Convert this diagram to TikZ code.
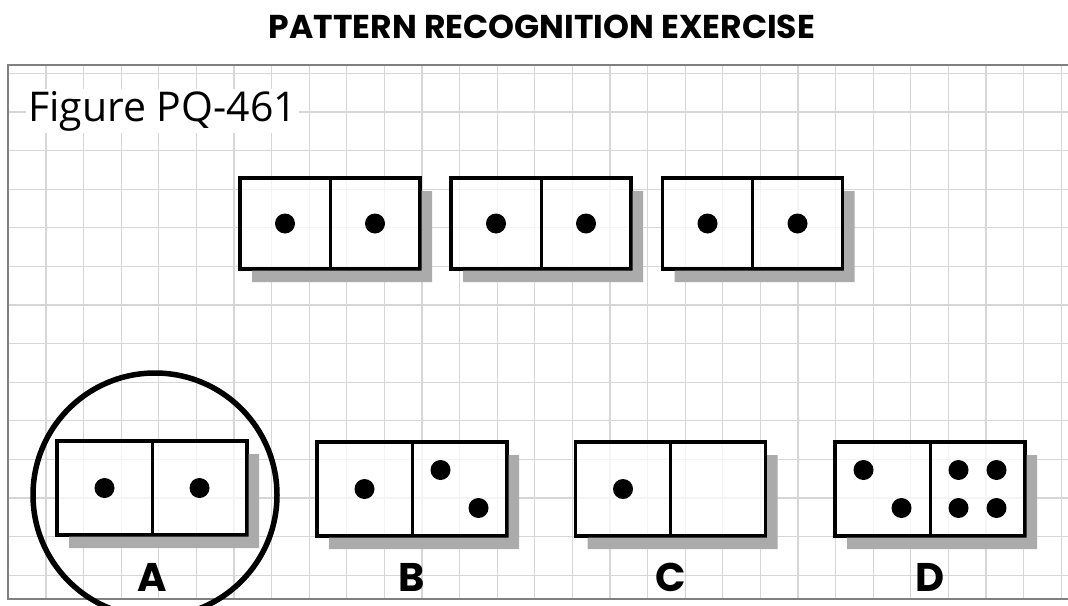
\documentclass[tikz,border=0pt]{standalone}
\usepackage{fontspec}
\usetikzlibrary{calc}
\newfontfamily\geofont{Poppins}
\newfontfamily\figfont{Open Sans}
\begin{document}
\begin{tikzpicture}[x=1pt,y=-1pt,
  gridline/.style={draw=black!16, line width=1.3pt},
  frameline/.style={draw=black!50, line width=2pt},
  domino/.style={draw=black, line width=3.4pt, fill=white, fill opacity=0.75, text opacity=1,
    inner sep=0pt, outer sep=0pt},
  topdomino/.style={domino, minimum width=180pt, minimum height=91pt},
  botdomino/.style={domino, minimum width=190pt, minimum height=94pt},
  shade/.style={fill=black!33},
  divline/.style={draw=black, line width=3pt},
  dot/.style={circle, fill=black, inner sep=0pt, minimum size=20pt},
  letter/.style={font=\geofont\bfseries\fontsize{40}{40}\selectfont, inner sep=0pt},
  ringstyle/.style={circle, draw=black, line width=5.5pt, minimum size=244pt, inner sep=0pt}
]
\useasboundingbox (0,0) rectangle (1068,605);
% title
\node[font=\geofont\bfseries\fontsize{33}{33}\selectfont, inner sep=0pt] (title) at (542,27) {PATTERN RECOGNITION EXERCISE};
% grid
\foreach \k in {0,...,27} \draw[gridline] ({46+37.6*\k},65) -- ({46+37.6*\k},599);
\foreach \k in {-1,...,12} \draw[gridline] (8,{112+38.6*\k}) -- (1068,{112+38.6*\k});
% frame
\draw[frameline] (1070,65) -- (8,65) -- (8,599) -- (1070,599);
% figure label
\node[font=\figfont\fontsize{41}{41}\selectfont, fill=white, inner sep=2pt, anchor=west] (figlabel) at (26,111) {Figure PQ-461};
% top row
\node[topdomino] (t1) at (330,223.5) {};
\node[topdomino] (t2) at (541,223.5) {};
\node[topdomino] (t3) at (752.5,223.5) {};
% bottom row
\node[botdomino] (a) at (152,488) {};
\node[botdomino] (b) at (412,489) {};
\node[botdomino] (c) at (670.5,489) {};
\node[botdomino] (d) at (930,489) {};
% shadows and dividers
\foreach \d in {t1,t2,t3,a,b,c,d} {
  \fill[shade] ($(\d.north east)+(1.7,13)$) -| ($(\d.south east)+(12,13)$) -| ($(\d.south west)+(12,1.7)$) -- ($(\d.south east)+(1.7,1.7)$) -- cycle;
  \draw[divline] (\d.north) -- (\d.south);
}
\node[dot] (t1a) at (285,223.5) {};
\node[dot] (t1b) at (375,223.5) {};
\node[dot] (t2a) at (496,223.5) {};
\node[dot] (t2b) at (586,223.5) {};
\node[dot] (t3a) at (707.5,223.5) {};
\node[dot] (t3b) at (797.5,223.5) {};
\node[dot] (aa) at (104.5,488) {};
\node[dot] (ab) at (199.5,488) {};
\node[dot] (ba) at (364.5,489) {};
\node[dot] (bb) at (440.5,470) {};
\node[dot] (bc) at (478.5,508) {};
\node[dot] (ca) at (623,489) {};
\node[dot] (da) at (863.5,470) {};
\node[dot] (db) at (901.5,508) {};
\node[dot] (dc) at (958.5,470) {};
\node[dot] (dd) at (996.5,470) {};
\node[dot] (de) at (958.5,508) {};
\node[dot] (df) at (996.5,508) {};
% answer ring
\node[ringstyle] (ring) at (155,495) {};
% letters
\node[letter] (la) at (152,577) {A};
\node[letter] (lb) at (412,577) {B};
\node[letter] (lc) at (670.5,577) {C};
\node[letter] (ld) at (930,577) {D};
\end{tikzpicture}
\end{document}
